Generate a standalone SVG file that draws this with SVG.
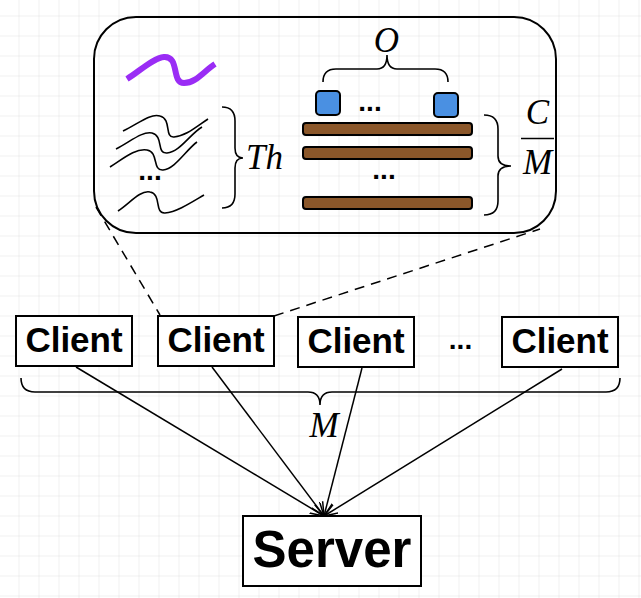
<svg xmlns="http://www.w3.org/2000/svg" width="641" height="598" viewBox="0 0 641 598">
<defs>
<pattern id="grid" x="18.5" y="15.5" width="20" height="20" patternUnits="userSpaceOnUse">
<path d="M0,0 H20 M0,0 V20" fill="none" stroke="#e2e2e2" stroke-width="1"/>
</pattern>
<marker id="open" markerWidth="16" markerHeight="12" refX="14" refY="5" orient="auto" markerUnits="userSpaceOnUse">
<path d="M0,0 L14,5 L0,10" fill="none" stroke="#000" stroke-width="1.5"/>
</marker>
</defs>
<style>
.box{fill:#fff;stroke:#000;stroke-width:2}
.brace{fill:none;stroke:#000;stroke-width:1.6}
.wave{fill:none;stroke:#000;stroke-width:1.6}
.math{font-family:"Liberation Serif","DejaVu Serif",serif;font-style:italic;font-size:35px;fill:#000}
.lbl{font-family:"Liberation Sans",Arial,sans-serif;font-weight:bold;fill:#000;text-anchor:middle}
.dots{font-family:"Liberation Sans",Arial,sans-serif;font-weight:bold;font-size:28px;fill:#000;text-anchor:middle}
.bar{fill:#8b572a;stroke:#000;stroke-width:2}
.sq{fill:#4a90e2;stroke:#000;stroke-width:2}
.conn{fill:none;stroke:#000;stroke-width:1.5}
.dash{fill:none;stroke:#000;stroke-width:1.5;stroke-dasharray:10 7}
</style>
<rect width="641" height="598" fill="#fff"/>
<rect width="641" height="598" fill="url(#grid)"/>

<g id="connectors">
<path class="dash" d="M96,207 L160,315"/>
<path class="dash" d="M274,316 L540,229"/>
<path class="conn" d="M76,367 L324,516" marker-end="url(#open)"/>
<path class="conn" d="M212,367 L324,516" marker-end="url(#open)"/>
<path class="conn" d="M362,368 L324,516" marker-end="url(#open)"/>
<path class="conn" d="M562,369 L324,516" marker-end="url(#open)"/>
</g>

<g id="detail">
<rect x="94" y="17" width="462" height="216" rx="42" ry="42" fill="none" stroke="#000" stroke-width="2"/>
<path d="M127,79 C140,71 153,58 164,57 C180,56 171,83 184,83 C196,83 204,71 215,64" fill="none" stroke="#9a2cf5" stroke-width="6"/>
<path class="wave" d="M123,131 C138,124 150,113 160,116 C172,119 164,138 174,137 C186,136 196,127 208,119"/>
<path class="wave" d="M116,149 C130,142 142,131 152,133 C164,136 156,154 167,153 C180,152 190,134 202,127"/>
<path class="wave" d="M110,167 C124,158 136,148 147,150 C159,152 152,171 163,170 C175,169 186,150 197,142"/>
<path class="wave" d="M118,211 C130,203 140,190 150,192 C162,194 154,214 165,213 C177,212 192,202 204,195"/>
<text class="dots" x="150" y="180">...</text>
<path class="brace" d="M222,107 Q235,107 235,121 L235,148 Q235,158 243,158 Q235,158 235,168 L235,194 Q235,208 222,208"/>
<text class="math" x="246" y="169">Th</text>
<path class="brace" d="M323,82 Q323,69 336,69 L377,69 Q387,69 387,55 Q387,69 397,69 L435,69 Q448,69 448,82"/>
<text class="math" x="386.5" y="52" text-anchor="middle">O</text>
<rect class="sq" x="316" y="91" width="24" height="24" rx="4"/>
<rect class="sq" x="434" y="93" width="24" height="24" rx="4"/>
<text class="dots" x="370" y="111">...</text>
<rect class="bar" x="303" y="123" width="169" height="12" rx="3"/>
<rect class="bar" x="303" y="147" width="169" height="12" rx="3"/>
<rect class="bar" x="303" y="197" width="169" height="12" rx="3"/>
<text class="dots" x="384" y="179">...</text>
<path class="brace" d="M484,115 Q498,115 498,129 L498,156 Q498,166 511,166 Q498,166 498,176 L498,201 Q498,215 484,215"/>
<text class="math" x="537.5" y="124" text-anchor="middle">C</text>
<line x1="521" y1="138.5" x2="554" y2="138.5" stroke="#000" stroke-width="1.5"/>
<text class="math" x="537.5" y="174" text-anchor="middle">M</text>
</g>

<g id="client1">
<rect class="box" x="16" y="316" width="116" height="50"/>
<text class="lbl" x="74" y="352" font-size="35">Client</text>
</g>
<g id="client2">
<rect class="box" x="158" y="316" width="116" height="50"/>
<text class="lbl" x="216" y="352" font-size="35">Client</text>
</g>
<g id="client3">
<rect class="box" x="298" y="317" width="116" height="50"/>
<text class="lbl" x="356" y="353" font-size="35">Client</text>
</g>
<text class="dots" x="460.5" y="349">...</text>
<g id="client4">
<rect class="box" x="502" y="317" width="116" height="50"/>
<text class="lbl" x="560" y="353" font-size="35">Client</text>
</g>

<g id="brace-m">
<path class="brace" d="M21,378 Q21,392 35,392 L308,392 Q320,392 320,405 Q320,392 332,392 L606,392 Q620,392 620,378"/>
<text class="math" x="324" y="437" text-anchor="middle">M</text>
</g>

<g id="server">
<rect class="box" x="243" y="516" width="178" height="70"/>
<text class="lbl" x="332" y="567" font-size="51">Server</text>
</g>
</svg>
